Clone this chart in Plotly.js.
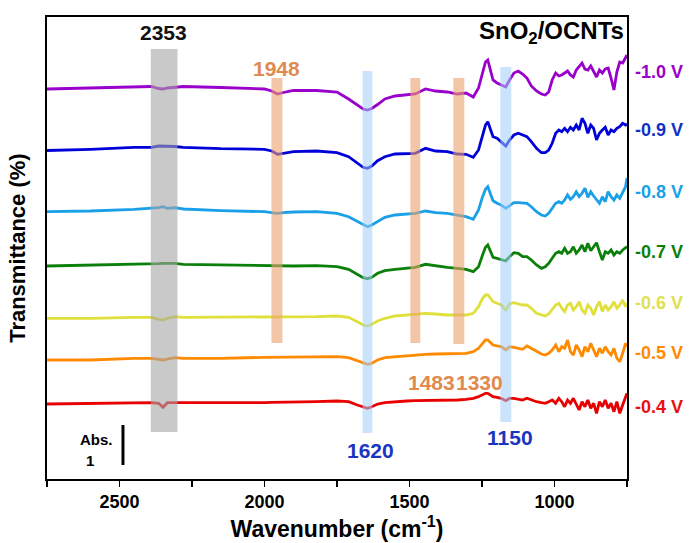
<!DOCTYPE html>
<html>
<head>
<meta charset="utf-8">
<script src="https://cdn.plot.ly/plotly-3.0.1.min.js"></script>
<style>
  html, body { margin: 0; padding: 0; background: #fff; }
  #chart { width: 689px; height: 543px; }
</style>
</head>
<body>
<div id="chart"></div>
<script>
// Wavenumber grid (cm^-1)
const wavenumber = [2750, 2600, 2450, 2390, 2365, 2350, 2335, 2310, 2280, 2150, 2000, 1975, 1955, 1935, 1900, 1820, 1750, 1710, 1680, 1660, 1645, 1630, 1610, 1585, 1550, 1510, 1480, 1445, 1410, 1370, 1335, 1305, 1280, 1262, 1248, 1238, 1230, 1222, 1212, 1198, 1184, 1168, 1155, 1140, 1125, 1110, 1095, 1080, 1062, 1045, 1032, 1020, 1008, 996, 985, 975, 965, 955, 945, 935, 925, 915, 905, 895, 885, 875, 865, 855, 845, 835, 825, 815, 805, 795, 785, 775, 765, 755, 750];

// Stacked spectra (arbitrary units, offset for display)
const spec_m10 = [390, 391, 392.5, 392.5, 390.5, 390, 391, 392, 392.5, 391.5, 390, 388, 385, 386.5, 388.5, 388.5, 387, 380, 374, 370, 369, 370.5, 374.5, 380, 383, 384, 385, 390, 388, 387, 385, 386, 382, 391, 407, 417, 419, 411, 399, 396, 394, 392, 399, 406, 408, 405, 401, 393, 388, 385, 384, 387, 399, 406, 403, 404, 406, 408, 404, 402, 409, 413, 416, 410, 409, 413, 407, 402, 409, 406, 410, 411, 401, 389, 407, 417, 416, 422, 424];
const spec_m09 = [328.5, 329.7, 331.7, 331.7, 333, 333, 333, 332.5, 331.7, 330.3, 329.7, 328, 324.7, 325.7, 327.3, 328, 326.3, 322.3, 316.3, 311.7, 310.7, 313, 318.3, 322.3, 325, 325.7, 325.7, 330.7, 328, 327.3, 325, 324.7, 321.7, 329, 342.3, 354, 357.3, 351, 342.3, 340.7, 337.3, 333, 339, 344, 345.7, 344, 342.3, 337.3, 330.7, 326.3, 326.3, 329, 335.7, 345.7, 349, 347.3, 350.7, 347.3, 351.7, 349, 354, 349, 360.7, 355.7, 345.7, 354, 350.7, 339, 345.7, 349, 351.7, 344, 349, 347.3, 350.7, 352.3, 355.7, 354, 355];
const spec_m08 = [267.3, 268, 269.7, 270.7, 271.3, 272.3, 270.7, 271.3, 270, 268.3, 267.3, 266.3, 265.7, 266.3, 267, 267.3, 265.7, 262.3, 257.3, 254, 252.3, 254, 257.3, 261.7, 264, 265, 265.7, 268, 266.3, 265.7, 264, 262.3, 259.7, 269, 282.3, 289.7, 292.3, 286.3, 278.3, 275.7, 274, 270.7, 273, 276.3, 276.3, 275.7, 275.7, 272.3, 267.3, 264, 263, 265.7, 270.7, 275.7, 277.3, 275.7, 279, 284, 279.7, 282.3, 287.3, 282.3, 285.7, 290.7, 281.7, 287.3, 283, 279, 275.7, 282.3, 277.3, 287.3, 282.3, 279, 284, 280.7, 287.3, 292.3, 301];
const spec_m07 = [213, 213.7, 214.7, 214.7, 215.3, 215.7, 215.7, 215.7, 214.7, 214, 213, 212.7, 212.7, 212.7, 213, 213.3, 212.3, 209.7, 205, 201.3, 200.3, 201.7, 205.7, 208.3, 209.7, 210.7, 211.7, 214.7, 213, 211.7, 210.7, 209.7, 207.3, 212.3, 224, 231.7, 234, 229, 221.7, 220.7, 219.7, 218, 222.3, 226.3, 225.7, 222.3, 222.3, 219, 214, 210.7, 212.3, 215.7, 220.7, 225.7, 227.3, 225.7, 230.7, 225.7, 227.3, 232.3, 225.7, 229, 234, 227.3, 235.7, 228.3, 232.3, 236.3, 227.3, 219, 227.3, 225.7, 229, 224, 227.3, 225.7, 229, 230.7, 232.3];
const spec_m06 = [160.7, 160.7, 161.7, 161.7, 159.7, 159, 160.7, 162.3, 161.7, 161.7, 161.7, 161.7, 161.7, 161.7, 161.7, 162.3, 163, 161.7, 157.3, 154, 153, 154.7, 158, 160.7, 163, 164, 164.7, 165.7, 165, 164, 164, 164, 165.7, 172.3, 180.7, 184, 184, 180.7, 177.3, 175.7, 174, 169, 175, 176.3, 175, 174, 174, 170.7, 165.7, 164, 163, 165, 169.7, 174, 175.7, 170.7, 167.3, 174, 175.7, 169, 172.3, 177.3, 169, 165.7, 174, 170.7, 164, 172.3, 177.3, 167.3, 174, 169, 172.3, 177.3, 170.7, 174, 179, 172.3, 175.7];
const spec_m05 = [119, 119, 120.7, 120.7, 119.7, 119, 120, 121.3, 120.7, 120.7, 121.7, 121.7, 121.7, 121.7, 122.3, 122.3, 122.3, 121.3, 118.3, 115.7, 114.7, 115.7, 119, 121.3, 122.3, 123, 123.7, 124.7, 125, 125, 125, 125.7, 127.3, 130.7, 135.7, 139, 139, 136.3, 134, 133, 132.3, 129, 132.3, 131.7, 130.7, 129.7, 133, 130.7, 127.3, 125, 124, 125.7, 129, 134, 127.3, 132.3, 130.7, 139, 127.3, 124, 134, 129, 122.3, 132.3, 127.3, 135.7, 129, 122.3, 130.7, 125.7, 132.3, 127.3, 124, 130.7, 120.7, 117.3, 125.7, 135.7, 132.3];
const spec_m04 = [75, 75.7, 76.3, 76.3, 75.7, 71.7, 76.3, 76.3, 75.7, 75.7, 76.3, 76.7, 76.7, 76.7, 76.7, 77.3, 78, 77.3, 74, 71.7, 70.7, 72.3, 75, 76.3, 77.3, 78, 78.3, 78.3, 79, 79, 79, 79.7, 80.7, 82.3, 84, 85.7, 85.7, 84, 82.3, 81.7, 80.7, 78.3, 80.7, 80.7, 80, 79, 80.7, 79, 77.3, 76.3, 75.7, 77.3, 79, 75.7, 80.7, 77.3, 72.3, 79, 75.7, 80.7, 74, 69, 77.3, 72.3, 79, 70.7, 75.7, 65.7, 77.3, 72.3, 79, 70.7, 75.7, 67.3, 77.3, 65.7, 74, 82.3, 85.7];

const seriesValues = [spec_m10, spec_m09, spec_m08, spec_m07, spec_m06, spec_m05, spec_m04];
const seriesNames = ['-1.0 V', '-0.9 V', '-0.8 V', '-0.7 V', '-0.6 V', '-0.5 V', '-0.4 V'];
const seriesColors = ['#9a00cc', '#0000d8', '#1aa0e8', '#0a800a', '#e0e03c', '#ff8a00', '#e80000'];
const labelColors  = ['#9a00cc', '#1030c8', '#1aa0e8', '#0a800a', '#e0e050', '#ff8a00', '#e81010'];
const labelLevels  = [407, 349, 287, 227, 176, 126, 72];

// Peak assignment bands (wavenumber ranges) and labels
const bandLo    = [2300, 1938, 1628, 1463, 1311, 1149];
const bandHi    = [2392, 1976, 1662, 1497, 1349, 1187];
const bandTop   = [430, 401, 408, 401, 401, 412];
const bandBot   = [47, 136, 46, 136, 135, 57];
const bandKind  = ['gray', 'orange', 'blue', 'orange', 'orange', 'blue'];
const peakText  = ['2353', '1948', '1620', '1483', '1330', '1150'];
const peakX     = [2350, 1960, 1636, 1338, 1342, 1154];
const peakY     = [447, 411, 29, 97, 97, 42];
const peakAnchor = ['center', 'center', 'center', 'right', 'left', 'center'];

const xTickVals = [2500, 2000, 1500, 1000];
const xTickText = ['2500', '2000', '1500', '1000'];

const FONT = 'Arial, "Liberation Sans", sans-serif';
const bandFill = {gray: 'rgba(165,165,165,0.6)', orange: 'rgba(235,160,110,0.6)', blue: 'rgba(160,205,248,0.55)'};
const peakColor = {gray: '#111111', orange: '#e08a50', blue: '#1a35c0'};

const traces = seriesValues.map((vals, i) => ({
  type: 'scatter', mode: 'lines',
  x: wavenumber, y: vals, name: seriesNames[i],
  line: {color: seriesColors[i], width: 2.8},
  hoverinfo: 'x+name'
}));

const shapes = bandLo.map((lo, i) => ({
  type: 'rect', xref: 'x', yref: 'y', layer: 'above',
  x0: lo, x1: bandHi[i], y0: bandBot[i], y1: bandTop[i],
  fillcolor: bandFill[bandKind[i]], line: {width: 0}
}));
// Abs. scale bar (1 absorbance unit)
shapes.push({type: 'line', xref: 'x', yref: 'y', x0: 2488, x1: 2488, y0: 14, y1: 54,
  line: {color: '#000', width: 3}});

const annotations = [];
seriesNames.forEach((n, i) => annotations.push({
  xref: 'paper', yref: 'y', x: 1.010, y: labelLevels[i], xanchor: 'left', yanchor: 'middle',
  text: n, showarrow: false, font: {family: FONT, size: 18, weight: 'bold', color: labelColors[i]}
}));
peakText.forEach((t, i) => annotations.push({
  xref: 'x', yref: 'y', x: peakX[i], y: peakY[i], xanchor: peakAnchor[i], yanchor: 'middle',
  text: t, showarrow: false, borderpad: 0,
  font: {family: FONT, size: 21, weight: 'bold', color: peakColor[bandKind[i]]}
}));
annotations.push({xref: 'paper', yref: 'y', x: 0.998, y: 447, xanchor: 'right', yanchor: 'middle',
  text: 'SnO<sub>2</sub>/OCNTs', showarrow: false, font: {family: FONT, size: 24, weight: 'bold', color: '#000'}});
annotations.push({xref: 'x', yref: 'y', x: 2578, y: 40, xanchor: 'center', yanchor: 'middle',
  text: 'Abs.', showarrow: false, font: {family: FONT, size: 15, weight: 'bold', color: '#000'}});
annotations.push({xref: 'x', yref: 'y', x: 2602, y: 19, xanchor: 'center', yanchor: 'middle',
  text: '1', showarrow: false, font: {family: FONT, size: 15, weight: 'bold', color: '#000'}});
annotations.push({xref: 'paper', yref: 'paper', x: -0.052, y: 0.5, xanchor: 'center', yanchor: 'middle',
  textangle: -90, text: 'Transmittance (%)', showarrow: false,
  font: {family: FONT, size: 22, weight: 'bold', color: '#000'}});

const layout = {
  width: 689, height: 543,
  margin: {l: 47, r: 62, t: 17, b: 64},
  paper_bgcolor: '#fff', plot_bgcolor: '#fff',
  showlegend: false,
  font: {family: FONT, color: '#000'},
  xaxis: {
    range: [2750, 750], autorange: false,
    tickmode: 'array', tickvals: xTickVals, ticktext: xTickText,
    ticks: 'outside', ticklen: 6, tickwidth: 1.5, tickcolor: '#000',
    minor: {tick0: 750, dtick: 250, ticks: 'outside', ticklen: 6, tickwidth: 1.5, tickcolor: '#000', showgrid: false},
    tickfont: {family: FONT, size: 18, weight: 'bold', color: '#000'},
    showline: true, linecolor: '#000', linewidth: 1.6, mirror: true,
    showgrid: false, zeroline: false,
    title: {text: 'Wavenumber (cm<sup>-1</sup>)', standoff: 5,
      font: {family: FONT, size: 23, weight: 'bold', color: '#000'}}
  },
  yaxis: {
    range: [0, 462], autorange: false,
    showticklabels: false, ticks: '',
    showline: true, linecolor: '#000', linewidth: 1.6, mirror: true,
    showgrid: false, zeroline: false
  },
  shapes: shapes,
  annotations: annotations
};

Plotly.newPlot('chart', traces, layout, {displayModeBar: false, staticPlot: true});
</script>
</body>
</html>
